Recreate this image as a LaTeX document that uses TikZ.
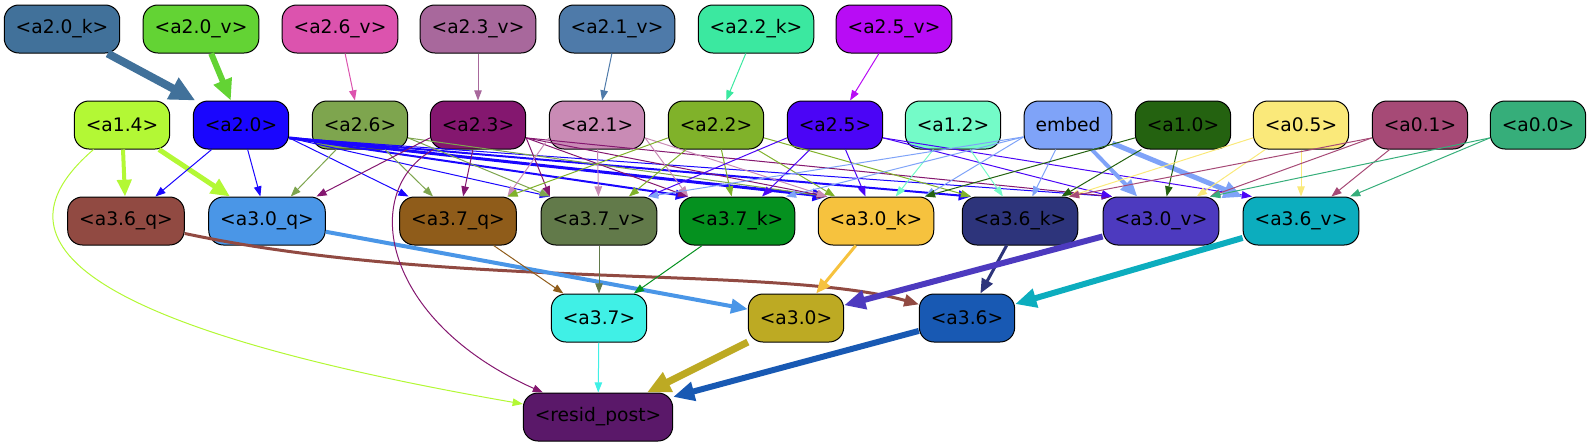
\documentclass[tikz,border=0pt]{standalone}
\usepackage{fontspec}
\setmainfont{DejaVu Sans}
\usetikzlibrary{arrows.meta}

\definecolor{c20k}{HTML}{41719A}
\definecolor{c20v}{HTML}{63D334}
\definecolor{c26v}{HTML}{DC53AE}
\definecolor{c23v}{HTML}{A8689C}
\definecolor{c21v}{HTML}{4E7AA9}
\definecolor{c22k}{HTML}{3BE8A0}
\definecolor{c25v}{HTML}{B80CF5}
\definecolor{c14}{HTML}{B3F835}
\definecolor{c20}{HTML}{1A06FE}
\definecolor{c26}{HTML}{7EA54E}
\definecolor{c23}{HTML}{84176F}
\definecolor{c21}{HTML}{C98BB5}
\definecolor{c22}{HTML}{80B22A}
\definecolor{c25}{HTML}{4B05F6}
\definecolor{c12}{HTML}{74FBC8}
\definecolor{cemb}{HTML}{7FA3F8}
\definecolor{c10}{HTML}{246210}
\definecolor{c05}{HTML}{FAE97A}
\definecolor{c01}{HTML}{A64A76}
\definecolor{c00}{HTML}{36AE7A}
\definecolor{c36q}{HTML}{914A42}
\definecolor{c30q}{HTML}{4A96E7}
\definecolor{c37q}{HTML}{8F5C1A}
\definecolor{c37v}{HTML}{627A4A}
\definecolor{c37k}{HTML}{05911F}
\definecolor{c30k}{HTML}{F6C23E}
\definecolor{c36k}{HTML}{2D347B}
\definecolor{c30v}{HTML}{4D3ABF}
\definecolor{c36v}{HTML}{0CADBE}
\definecolor{c37}{HTML}{40F0E6}
\definecolor{c30}{HTML}{BDAA23}
\definecolor{c36}{HTML}{1859B3}
\definecolor{cres}{HTML}{5A1869}

\tikzset{
  blk/.style={draw=black, line width=0.75pt, rounded corners=11pt, minimum height=36pt,
    inner xsep=8.6pt, inner ysep=0pt, text=black, font=\fontsize{14}{17}\selectfont},
  ln/.style={line width=0.75pt, -{Triangle[length=6pt 2.2, width=4pt 2.2]}},
}

\begin{document}
\begin{tikzpicture}[x=0.75pt, y=-0.75pt]
\useasboundingbox (0,0) rectangle (1591,443);

% top row
\node[blk, fill=c20k] (a20k) at (62,29) {<a2.0\_k>};
\node[blk, fill=c20v] (a20v) at (201,29) {<a2.0\_v>};
\node[blk, fill=c26v] (a26v) at (340,29) {<a2.6\_v>};
\node[blk, fill=c23v] (a23v) at (478,29) {<a2.3\_v>};
\node[blk, fill=c21v] (a21v) at (617,29) {<a2.1\_v>};
\node[blk, fill=c22k] (a22k) at (756,29) {<a2.2\_k>};
\node[blk, fill=c25v] (a25v) at (894,29) {<a2.5\_v>};

% second row
\node[blk, fill=c14] (a14) at (122,125) {<a1.4>};
\node[blk, fill=c20] (a20) at (241,125) {<a2.0>};
\node[blk, fill=c26] (a26) at (360,125) {<a2.6>};
\node[blk, fill=c23] (a23) at (478,125) {<a2.3>};
\node[blk, fill=c21] (a21) at (597,125) {<a2.1>};
\node[blk, fill=c22] (a22) at (716,125) {<a2.2>};
\node[blk, fill=c25] (a25) at (835,125) {<a2.5>};
\node[blk, fill=c12] (a12) at (953,125) {<a1.2>};
\node[blk, fill=cemb] (emb) at (1068,125) {embed};
\node[blk, fill=c10] (a10) at (1183,125) {<a1.0>};
\node[blk, fill=c05] (a05) at (1301,125) {<a0.5>};
\node[blk, fill=c01] (a01) at (1420,125) {<a0.1>};
\node[blk, fill=c00] (a00) at (1538,125) {<a0.0>};

% third row
\node[blk, fill=c36q] (a36q) at (126,221) {<a3.6\_q>};
\node[blk, fill=c30q] (a30q) at (267,221) {<a3.0\_q>};
\node[blk, fill=c37q] (a37q) at (458,221) {<a3.7\_q>};
\node[blk, fill=c37v] (a37v) at (599,221) {<a3.7\_v>};
\node[blk, fill=c37k] (a37k) at (737,221) {<a3.7\_k>};
\node[blk, fill=c30k] (a30k) at (876,221) {<a3.0\_k>};
\node[blk, fill=c36k] (a36k) at (1020,221) {<a3.6\_k>};
\node[blk, fill=c30v] (a30v) at (1161,221) {<a3.0\_v>};
\node[blk, fill=c36v] (a36v) at (1301,221) {<a3.6\_v>};

% fourth row and output
\node[blk, fill=c37] (a37) at (599,318) {<a3.7>};
\node[blk, fill=c30] (a30) at (796,318) {<a3.0>};
\node[blk, fill=c36] (a36) at (967,318) {<a3.6>};
\node[blk, fill=cres] (resid) at (598,417) {<resid\_post>};

% heads into layer 2
\draw[ln, c20k, line width=6pt] (a20k) -- (a20);
\draw[ln, c20v, line width=4.5pt] (a20v) -- (a20);
\draw[ln, c26v] (a26v) -- (a26);
\draw[ln, c23v] (a23v) -- (a23);
\draw[ln, c21v] (a21v) -- (a21);
\draw[ln, c22k] (a22k) -- (a22);
\draw[ln, c25v] (a25v) -- (a25);

% layer 2 into q/k/v of layer 3
\draw[ln, c14, line width=3pt] (a14) -- (a36q);
\draw[ln, c14, line width=3.75pt] (a14) -- (a30q);
\foreach \t in {a36q,a30q} \draw[ln, c20] (a20) -- (\t);
\foreach \t in {a37q,a37v,a30v} \draw[ln, c20] (a20.-15) -- ([xshift=7pt]\t.north west);
\draw[ln, c20, line width=1.5pt] (a20.-15) -- ([xshift=7pt]a37k.north west);
\draw[ln, c20, line width=2.25pt] (a20.-15) -- ([xshift=7pt]a30k.north west);
\draw[ln, c20, line width=1.5pt] (a20.-15) -- ([xshift=7pt]a36k.north west);
\foreach \t in {a30q,a37q} \draw[ln, c26] (a26) -- (\t);
\foreach \t in {a37v,a30k} \draw[ln, c26] (a26.-15) -- ([xshift=7pt]\t.north west);
\draw[ln, c23] (a23) -- (a37q);
\draw[ln, c23] (a23.195) -- ([xshift=-7pt]a30q.north east);
\foreach \t in {a37v,a37k,a30k,a30v} \draw[ln, c23] (a23.-15) -- ([xshift=7pt]\t.north west);
\draw[ln, c21] (a21.195) -- ([xshift=-7pt]a37q.north east);
\draw[ln, c21] (a21) -- (a37v);
\foreach \t in {a37k,a30k} \draw[ln, c21] (a21.-15) -- ([xshift=7pt]\t.north west);
\draw[ln, c22] (a22.195) -- ([xshift=-7pt]a37q.north east);
\foreach \t in {a37v,a37k,a30k} \draw[ln, c22] (a22) -- (\t);
\draw[ln, c22] (a22.-15) -- ([xshift=7pt]a36k.north west);
\draw[ln, c25] (a25.195) -- ([xshift=-7pt]a37v.north east);
\foreach \t in {a37k,a30k} \draw[ln, c25] (a25) -- (\t);
\foreach \t in {a30v,a36v} \draw[ln, c25] (a25.-15) -- ([xshift=7pt]\t.north west);
\foreach \t in {a30k,a36k} \draw[ln, c12] (a12) -- (\t);
\foreach \t in {a37v,a37k,a30k} \draw[ln, cemb] (emb.195) -- ([xshift=-7pt]\t.north east);
\draw[ln, cemb] (emb) -- (a36k);
\draw[ln, cemb, line width=3pt] (emb) -- (a30v);
\draw[ln, cemb, line width=3.75pt] (emb) -- (a36v);
\draw[ln, c10] (a10.195) -- ([xshift=-7pt]a30k.north east);
\foreach \t in {a36k,a30v} \draw[ln, c10] (a10) -- (\t);
\draw[ln, c05] (a05.195) -- ([xshift=-7pt]a36k.north east);
\foreach \t in {a30v,a36v} \draw[ln, c05] (a05) -- (\t);
\foreach \t in {a36k,a30v} \draw[ln, c01] (a01.195) -- ([xshift=-7pt]\t.north east);
\draw[ln, c01] (a01) -- (a36v);
\foreach \t in {a30v,a36v} \draw[ln, c00] (a00.195) -- ([xshift=-7pt]\t.north east);

% q/k/v into heads
\draw[ln, c36q, line width=2.25pt] (a36q) .. controls (450,290) and (780,265) .. (a36);
\draw[ln, c30q, line width=3pt] (a30q) -- (a30);
\draw[ln, c37q] (a37q) -- (a37);
\draw[ln, c37v] (a37v) -- (a37);
\draw[ln, c37k] (a37k) -- (a37);
\draw[ln, c30k, line width=2.25pt] (a30k) -- (a30);
\draw[ln, c36k, line width=2.25pt] (a36k) -- (a36);
\draw[ln, c30v, line width=4.5pt] (a30v) -- (a30);
\draw[ln, c36v, line width=4.5pt] (a36v) -- (a36);

% residual
\draw[ln, c14] (a14) .. controls (0,230) and (40,320) .. (resid);
\draw[ln, c23] (a23) .. controls (360,190) and (380,320) .. (resid);
\draw[ln, c37] (a37) -- (resid);
\draw[ln, c30, line width=5.25pt] (a30) -- (resid);
\draw[ln, c36, line width=4.5pt] (a36) -- (resid);
\end{tikzpicture}
\end{document}
